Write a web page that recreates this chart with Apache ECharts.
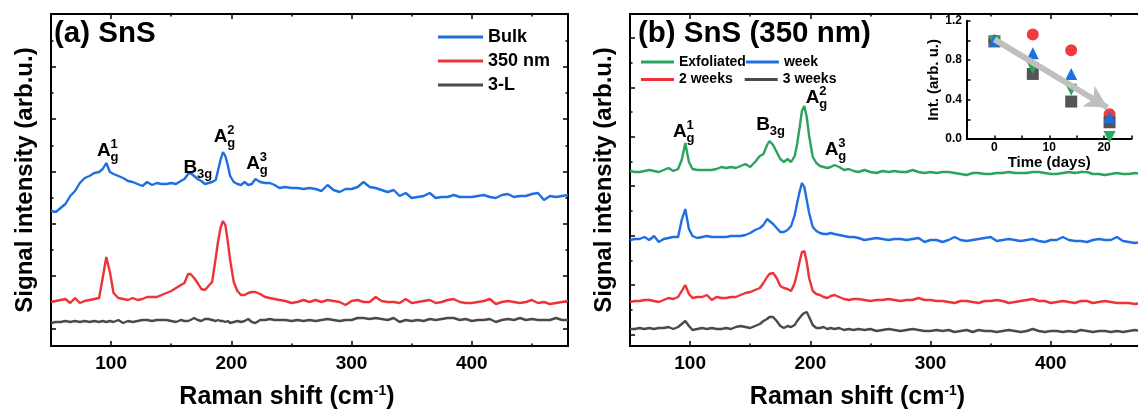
<!DOCTYPE html>
<html><head><meta charset="utf-8">
<script src="https://cdn.jsdelivr.net/npm/echarts@6/dist/echarts.min.js"></script>
<style>html,body{margin:0;padding:0;background:#fff}#c{width:1138px;height:410px}</style>
</head><body><div id="c"></div>
<script>
// ---------- data ----------
const shift = [50,54,58,62,66,70,74,78,82,86,90,93,96,99,102,106,110,114,118,122,126,130,134,138,142,146,150,154,158,161,164,166,169,172,175,178,181,184,187,189,191,193,195,197,199,202,205,208,211,214,217,220,224,228,232,236,240,245,250,255,260,265,270,275,280,285,290,295,300,305,310,315,320,325,330,335,340,345,350,355,360,365,370,375,380,385,390,395,400,405,410,415,420,425,430,435,440,445,450,455,460,465,470,475,480];
// panel (a)
const bulk = [13.5,13.4,13.8,14.2,15.0,15.5,16.3,16.8,17.0,17.3,17.4,17.7,18.3,17.4,17.2,17.0,16.8,16.5,16.4,16.2,16.0,16.4,16.1,16.3,16.2,16.2,16.3,16.2,16.5,16.7,17.2,17.3,17.0,16.7,16.5,16.2,16.3,16.4,16.6,17.6,18.6,19.4,19.0,18.1,17.0,16.4,16.2,16.1,16.4,16.1,16.2,16.7,16.4,16.3,16.3,16.1,15.8,15.9,15.8,15.8,15.7,15.8,15.7,15.5,16.1,15.6,15.4,15.7,15.7,15.9,16.4,15.9,15.8,15.6,15.4,15.6,15.0,15.3,14.8,14.9,15.0,15.3,14.8,14.9,14.9,15.1,14.9,14.9,14.9,15.0,15.1,14.9,14.8,15.1,15.2,14.9,15.0,15.0,15.2,15.3,14.6,15.0,14.9,15.0,15.1];
const nm350 = [4.4,4.5,4.6,4.7,4.3,4.8,4.3,4.5,4.6,4.7,4.8,6.8,8.9,7.4,5.3,4.8,4.7,4.6,4.8,4.6,4.7,4.9,4.9,4.9,5.1,5.3,5.5,5.8,6.1,6.3,7.2,7.2,6.8,6.3,5.7,5.6,6.0,6.4,8.8,10.5,11.8,12.5,12.1,10.5,8.6,6.4,5.5,5.1,5.1,5.3,5.4,5.4,5.2,4.9,4.8,4.7,4.6,4.5,4.3,4.4,4.6,4.4,4.6,4.4,4.6,4.5,4.4,4.1,4.5,4.6,4.4,4.4,4.9,4.5,4.4,4.4,4.3,4.7,4.3,4.4,4.5,4.6,4.3,4.4,4.6,4.7,4.4,4.3,4.3,4.4,4.5,4.7,4.2,4.4,4.5,4.4,4.3,4.4,4.6,4.3,4.4,4.2,4.3,4.4,4.5];
const tri = [2.3,2.4,2.4,2.5,2.4,2.5,2.4,2.5,2.4,2.5,2.4,2.5,2.4,2.5,2.4,2.6,2.3,2.5,2.4,2.5,2.6,2.6,2.5,2.6,2.6,2.6,2.5,2.4,2.6,2.5,2.5,2.6,2.8,2.6,2.5,2.7,2.7,2.6,2.5,2.6,2.5,2.5,2.4,2.5,2.3,2.4,2.5,2.4,2.5,2.7,2.4,2.3,2.6,2.6,2.7,2.6,2.6,2.6,2.5,2.6,2.5,2.6,2.5,2.6,2.7,2.6,2.5,2.6,2.6,2.8,2.8,2.7,2.8,2.7,2.6,2.8,2.4,2.6,2.5,2.6,2.5,2.7,2.6,2.7,2.8,2.8,2.6,2.7,2.5,2.6,2.6,2.7,2.4,2.6,2.7,2.6,2.8,2.6,2.7,2.6,2.6,2.6,2.8,2.6,2.6];
// panel (b)
const exfol = [17.5,17.4,17.4,17.5,17.6,17.5,17.4,17.6,17.8,17.5,17.7,18.6,20.3,18.4,17.7,17.6,17.6,17.6,17.6,17.7,17.9,17.8,17.9,17.8,18.0,18.2,17.9,18.4,19.0,19.2,20.1,20.5,20.1,19.4,18.7,18.4,18.7,18.4,19.0,20.2,21.8,23.5,24.0,22.9,21.0,18.9,18.3,18.0,17.9,17.8,17.9,18.1,17.9,17.6,17.7,17.5,17.4,17.6,17.4,17.3,17.5,17.4,17.5,17.4,17.4,17.6,17.4,17.3,17.4,17.3,17.4,17.4,17.3,17.2,17.1,17.3,17.3,17.2,17.2,17.3,17.3,17.4,17.3,17.3,17.3,17.4,17.4,17.3,17.2,17.2,17.3,17.4,17.3,17.4,17.4,17.2,17.2,17.1,17.2,17.3,17.2,17.2,17.3,17.2,17.2];
const week1 = [10.6,10.7,10.7,10.9,10.6,11.0,10.4,10.7,10.8,10.9,10.9,12.6,13.7,11.7,11.0,10.8,10.9,11.0,10.9,10.9,10.9,10.9,11.0,11.0,11.0,11.1,11.3,11.6,11.8,12.1,12.7,12.5,12.2,11.8,11.4,11.4,11.6,12.0,13.1,14.3,15.4,16.3,15.9,14.6,13.3,11.9,11.5,11.3,11.2,11.2,11.3,11.2,11.1,11.0,10.9,10.9,10.8,10.6,10.7,10.8,10.7,10.6,10.7,10.7,10.6,10.7,10.8,10.4,10.6,10.6,10.4,10.6,10.9,10.6,10.5,10.6,10.7,10.8,10.9,10.5,10.6,10.7,10.6,10.5,10.6,10.7,10.5,10.4,10.6,10.6,10.9,10.6,10.5,10.5,10.4,10.6,10.7,10.6,10.6,10.9,10.5,10.4,10.3,10.4,10.4];
const weeks2 = [4.4,4.5,4.5,4.6,4.6,4.5,4.4,4.6,4.8,4.7,4.9,5.5,6.1,5.2,4.8,4.9,4.9,5.1,4.6,4.9,4.8,4.8,4.9,4.9,5.1,5.3,5.4,5.6,5.8,6.3,6.9,7.2,7.3,6.8,6.0,5.8,5.7,5.5,6.3,7.3,8.4,9.4,9.5,8.4,6.8,5.5,5.2,5.1,4.9,4.8,5.0,5.1,4.9,4.7,4.6,4.7,4.7,4.6,4.5,4.6,4.6,4.7,4.6,4.5,4.6,4.6,4.8,4.6,4.6,4.5,4.5,4.4,4.3,4.5,4.5,4.4,4.3,4.5,4.5,4.6,4.5,4.3,4.4,4.5,4.6,4.7,4.5,4.5,4.3,4.4,4.5,4.4,4.3,4.5,4.5,4.3,4.4,4.5,4.4,4.3,4.3,4.3,4.2,4.3,4.3];
const weeks3 = [1.7,1.7,1.8,1.7,1.8,1.7,1.8,1.8,1.9,1.7,1.9,2.2,2.5,2.0,1.6,1.7,1.8,1.7,1.8,1.7,1.7,1.8,1.7,1.9,2.0,1.9,1.8,2.0,2.2,2.5,2.7,2.9,2.9,2.5,2.0,1.8,2.0,1.9,2.1,2.5,2.8,3.1,3.3,3.4,2.9,2.1,1.8,1.8,1.9,1.7,1.8,1.7,1.8,1.6,1.7,1.6,1.7,1.6,1.7,1.5,1.6,1.7,1.6,1.5,1.6,1.7,1.6,1.5,1.5,1.6,1.5,1.6,1.4,1.5,1.6,1.4,1.6,1.5,1.5,1.4,1.5,1.6,1.5,1.4,1.5,1.7,1.5,1.4,1.5,1.5,1.4,1.5,1.4,1.6,1.5,1.4,1.5,1.5,1.4,1.5,1.4,1.5,1.6,1.5,1.4];
// inset
const days = [0,7,14,21];
const int2w = [1.00,1.06,0.90,0.25];
const int1w = [1.00,0.87,0.66,0.22];
const intExf = [0.99,0.72,0.50,0.02];
const int3w = [0.99,0.66,0.38,0.17];
const arrowFrom = [0,1.01];
const arrowTo = [20.6,0.32];
// ticks
const xTicks = [100,200,300,400];
const xMinor = [50,150,250,350,450];
const yTickA = [1.77,7.0,12.23,17.46,22.69,27.92];
const yMinorA = [4.38,9.61,14.84,20.07,25.3,30.53];
const yTickB = [1.17,6.1,11.04,15.98,20.92,25.86,30.8];
const yMinorB = [3.63,8.57,13.51,18.45,23.39,28.33];
const insetXLabels = [0,10,20];
const insetYLabels = [0,0.4,0.8,1.2];
// peak labels
const peakMain = ['A','B','A','A'];
const peakSub = ['g','3g','g','g'];
const peakSup = ['1','','2','3'];
const peakXA = [88.6,160.7,185.7,212.9];
const peakYA = [19.5,17.8,20.9,18.2];
const peakXB = [86.1,155.5,196.5,212.3];
const peakYB = [21.4,22.1,24.8,19.6];

// ---------- chart ----------
const FONT = 'Arial, "Liberation Sans", Helvetica, sans-serif';
const C = {blue:'#1f6fe0', red:'#ee3338', gray:'#4a4a4a', green:'#2ba35a'};
const chart = echarts.init(document.getElementById('c'), null, {renderer:'canvas', width:1138, height:410});
const zip = (xs, ys) => xs.map((x,i)=>[x, ys[i]]);

const xAxes = [], yAxes = [];
const tick = (vals,len)=>({show:true, inside:true, length:len, customValues:vals, lineStyle:{color:'#000', width:1.5}});
const bold = (s)=>({fontSize:s, fontWeight:'bold', color:'#000', fontFamily:FONT});
function panelAxes(g, yMaj, yMin, namePad) {
  const xb = {gridIndex:g, type:'value', min:50, max:480, splitLine:{show:false}, axisLine:{show:false, onZero:false}};
  const xi = xAxes.length;
  xAxes.push(Object.assign({}, xb, {position:'bottom', axisTick:tick(xTicks,5),
    axisLabel:Object.assign({customValues:xTicks, margin:8}, bold(19)),
    name:'Raman shift (cm{sup|-1})', nameLocation:'middle', nameGap:38,
    nameTextStyle:Object.assign({lineHeight:26, padding:[0,namePad,0,0], rich:{sup:Object.assign({lineHeight:26, verticalAlign:'top'}, bold(14))}}, bold(25))}));
  xAxes.push(Object.assign({}, xb, {position:'bottom', axisTick:tick(xMinor,2.5), axisLabel:{show:false}}));
  xAxes.push(Object.assign({}, xb, {position:'top', axisTick:tick(xTicks,5), axisLabel:{show:false}}));
  xAxes.push(Object.assign({}, xb, {position:'top', axisTick:tick(xMinor,2.5), axisLabel:{show:false}}));
  const yb = {gridIndex:g, type:'value', min:0, max:33.2, splitLine:{show:false}, axisLine:{show:false, onZero:false}};
  const yi = yAxes.length;
  yAxes.push(Object.assign({}, yb, {position:'left', axisTick:tick(yMaj,5), axisLabel:{show:false},
    name:'Signal intensity (arb.u.)', nameLocation:'middle', nameGap:14, nameTextStyle:bold(24)}));
  yAxes.push(Object.assign({}, yb, {position:'left', axisTick:tick(yMin,2.5), axisLabel:{show:false}}));
  yAxes.push(Object.assign({}, yb, {position:'right', axisTick:tick(yMaj,5), axisLabel:{show:false}}));
  yAxes.push(Object.assign({}, yb, {position:'right', axisTick:tick(yMin,2.5), axisLabel:{show:false}}));
  return [xi, yi];
}
const [axA, ayA] = panelAxes(0, yTickA, yMinorA, 45);
const [axB, ayB] = panelAxes(1, yTickB, yMinorB, 62);
const axI = xAxes.length, ayI = yAxes.length;
xAxes.push({gridIndex:2, type:'value', min:-5, max:25, interval:5, position:'bottom', splitLine:{show:false},
  axisLine:{show:true, onZero:false, lineStyle:{color:'#000', width:2}},
  axisTick:{inside:true, length:3.5, lineStyle:{color:'#000', width:1.5}},
  axisLabel:Object.assign({customValues:insetXLabels, margin:3}, bold(12)),
  name:'Time (days)', nameLocation:'middle', nameGap:16, nameTextStyle:bold(15)});
yAxes.push({gridIndex:2, type:'value', min:0, max:1.2, interval:0.2, position:'left', splitLine:{show:false},
  axisLine:{show:true, onZero:false, lineStyle:{color:'#000', width:2}},
  axisTick:{inside:true, length:3.5, lineStyle:{color:'#000', width:1.5}},
  axisLabel:Object.assign({customValues:insetYLabels, margin:5, formatter:v=>v.toFixed(1)}, bold(12)),
  name:'Int. (arb. u.)', nameLocation:'middle', nameGap:26, nameTextStyle:bold(15)});

function spectrum(name, xi, yi, ys, color) {
  return {name, type:'line', xAxisIndex:xi, yAxisIndex:yi, data:zip(shift, ys), showSymbol:false, symbol:'none',
    lineStyle:{width:2.4, color}, itemStyle:{color}, z:3, silent:true};
}
function textSeries(xi, yi, xs, ys, texts, size, offset) {
  return {type:'scatter', xAxisIndex:xi, yAxisIndex:yi, symbolSize:1, itemStyle:{color:'rgba(0,0,0,0)', opacity:1}, silent:true, z:6,
    data: xs.map((x,i)=>({value:[x, ys[i]], label:{show:!!texts[i], position:[0,0], align:'left', verticalAlign:'middle',
      offset:offset, formatter:texts[i] || ' ', textBorderWidth:0, opacity:1, ...bold(size)}}))};
}
function peakSeries(xi, yi, xs, ys) {
  return [
    textSeries(xi, yi, xs, ys, peakMain, 19, [0,0]),
    textSeries(xi, yi, xs, ys, peakSub, 13, [13.5,6.5]),
    textSeries(xi, yi, xs, ys, peakSup, 13, [13.5,-6])
  ];
}
function insetSeries(name, ys, symbol, color, rot) {
  return {name, type:'scatter', xAxisIndex:axI, yAxisIndex:ayI, data:zip(days, ys), symbol, symbolSize:12, symbolRotate:rot||0,
    itemStyle:{color, opacity:1}, silent:true, z:4};
}

const option = {
  animation:false,
  backgroundColor:'#fff',
  title:[
    {text:'(a) SnS', left:54, top:19, padding:0, textStyle:bold(29.5)},
    {text:'(b) SnS (350 nm)', left:638, top:19, padding:0, textStyle:bold(29.5)}
  ],
  grid:[
    {left:51, top:14, width:517, height:332, show:true, borderColor:'#000', borderWidth:2, backgroundColor:'transparent', outerBoundsMode:'none', containLabel:false},
    {left:630, top:14, width:517, height:332, show:true, borderColor:'#000', borderWidth:2, backgroundColor:'transparent', outerBoundsMode:'none', containLabel:false},
    {left:967, top:20.7, width:164.5, height:118.3, outerBoundsMode:'none', containLabel:false}
  ],
  legend:[
    {data:['Bulk','350 nm','3-L'], orient:'vertical', left:438, top:28, icon:'rect', itemWidth:45, itemHeight:3, itemGap:6, padding:0, textStyle:bold(18), selectedMode:false},
    {data:['Exfoliated','week'], orient:'horizontal', left:641, top:55, icon:'rect', itemWidth:33, itemHeight:3, itemGap:0, padding:0, textStyle:bold(14), selectedMode:false},
    {data:['2 weeks','3 weeks'], orient:'horizontal', left:641, top:72.5, icon:'rect', itemWidth:33, itemHeight:3, itemGap:12, padding:0, textStyle:bold(14), selectedMode:false}
  ],
  xAxis:xAxes,
  yAxis:yAxes,
  series:[
    spectrum('Bulk', axA, ayA, bulk, C.blue),
    spectrum('350 nm', axA, ayA, nm350, C.red),
    spectrum('3-L', axA, ayA, tri, C.gray),
    spectrum('Exfoliated', axB, ayB, exfol, C.green),
    spectrum('week', axB, ayB, week1, C.blue),
    spectrum('2 weeks', axB, ayB, weeks2, C.red),
    spectrum('3 weeks', axB, ayB, weeks3, C.gray),
    ...peakSeries(axA, ayA, peakXA, peakYA),
    ...peakSeries(axB, ayB, peakXB, peakYB),
    insetSeries('i-2w', int2w, 'circle', '#ef3b3d'),
    insetSeries('i-3w', int3w, 'rect', '#555555'),
    insetSeries('i-exf', intExf, 'triangle', '#2aa85c', 180),
    insetSeries('i-1w', int1w, 'triangle', '#1f6fe0'),
    {type:'line', xAxisIndex:axI, yAxisIndex:ayI, data:[], silent:true, z:5,
      markLine:{silent:true, symbol:['none','arrow'], symbolSize:[18,22], label:{show:false},
        lineStyle:{color:'#bfbfbf', width:6, type:'solid', opacity:1},
        data:[[{coord:arrowFrom},{coord:arrowTo}]]}}
  ]
};
chart.setOption(option);
</script>
</body></html>
